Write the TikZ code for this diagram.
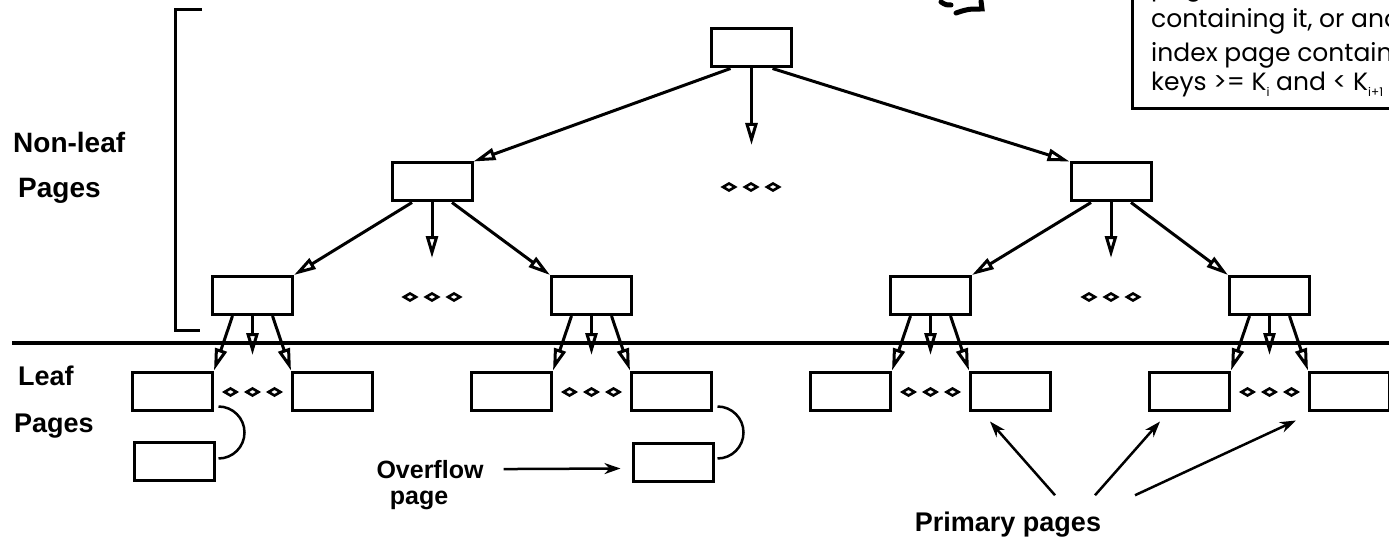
\documentclass[tikz,border=0pt]{standalone}
\usepackage{fontspec}
\setmainfont{Liberation Sans}
\newfontfamily\handfont{Poppins}
\usetikzlibrary{arrows.meta}
\newcommand{\lowsub}[1]{\raisebox{-6pt}{\fontsize{12}{12}\selectfont #1}}

\begin{document}
\begin{tikzpicture}[x=1pt, y=-1pt,
        page/.style={draw, line width=3pt, minimum width=80pt, minimum height=38pt, inner sep=0pt},
        down/.style={line width=3pt, -{Triangle[open, length=22pt, width=12pt]}},
        pointer/.style={line width=2.5pt, -{Stealth[length=16pt, width=11pt, inset=5pt]}},
        dotmark/.style={line width=2.6pt},
        side/.style={anchor=base west, inner sep=0pt, font=\bfseries\fontsize{28}{28}\selectfont},
        caption/.style={anchor=base, inner sep=0pt, font=\bfseries\fontsize{25}{25}\selectfont},
        note/.style={anchor=base west, inner sep=0pt, font=\handfont\fontsize{25}{25}\selectfont}]
    \useasboundingbox (0,0) rectangle (1389,540);
    \clip (0,0) rectangle (1389,540);
    % non-leaf levels
    \node[page] (root) at (751.5,48) {};
    \node[page] (midl) at (432,182) {};
    \node[page] (midr) at (1111,182) {};
    \foreach \g/\c in {a/252.5,b/591.5,c/930.5,d/1269.5}
        \node[page] (low\g) at (\c,295.5) {};
    \coordinate (rootend) at (751.5,145);
    \coordinate (midlend) at (432,258);
    \coordinate (midrend) at (1111,258);
    \draw[down] ([xshift=-21pt]root.south) -- (midl.north east);
    \draw[down] (root.south) -- (rootend);
    \draw[down] ([xshift=21pt]root.south) -- (midr.north west);
    \draw[down] ([xshift=-20pt]midl.south) -- (lowa.north east);
    \draw[down] (midl.south) -- (midlend);
    \draw[down] ([xshift=20pt]midl.south) -- (lowb.north west);
    \draw[down] ([xshift=-20pt]midr.south) -- (lowc.north east);
    \draw[down] (midr.south) -- (midrend);
    \draw[down] ([xshift=20pt]midr.south) -- (lowd.north west);
    \foreach \x/\y in {729/187,751/187,773/187,410/297,432/297,454/297,1089/297,1111/297,1133/297}
        \draw[dotmark] (\x-6,\y) -- (\x,\y-3.5) -- (\x+6,\y) -- (\x,\y+3.5) -- cycle;
    \draw[line width=3pt] (202,10) -- (175,10) -- (175,330) -- (200,330);
    \node[side] (nonleaf) at (13,153) {Non-leaf};
    \node[side] (nonleafpg) at (18,197) {Pages};
    % leaf level
    \draw[line width=3.5pt] (12,343) -- (1389,343);
    \node[side, font=\bfseries\fontsize{27}{27}\selectfont] (leaflbl) at (18,385) {Leaf};
    \node[side, font=\bfseries\fontsize{27}{27}\selectfont] (leafpg) at (14,432) {Pages};
    \foreach \g/\c in {a/252.5,b/591.5,c/930.5,d/1269.5} {
        \node[page] (leaf\g1) at (\c-80,391) {};
        \node[page] (leaf\g2) at (\c+80,391) {};
        \coordinate (lowend\g) at (\c,355);
        \draw[down] ([xshift=-20pt]low\g.south) -- (leaf\g1.north east);
        \draw[down] (low\g.south) -- (lowend\g);
        \draw[down] ([xshift=20pt]low\g.south) -- (leaf\g2.north west);
        \foreach \dx in {-22,0,22}
            \draw[dotmark] (\c+\dx-6,392) -- (\c+\dx,388.5) -- (\c+\dx+6,392) -- (\c+\dx,395.5) -- cycle;
    }
    % overflow pages
    \node[page] (overa) at (174.5,461) {};
    \node[page] (overb) at (673,462.5) {};
    \draw[line width=2.5pt] ([xshift=4.5pt,yshift=5pt]leafa1.south east) arc[start angle=-90, end angle=90, radius=26];
    \draw[line width=2.5pt] ([xshift=4.5pt,yshift=5pt]leafb2.south east) arc[start angle=-90, end angle=90, radius=26];
    \node[caption] (ovlbl) at (430,478) {Overflow};
    \node[caption] (ovpg) at (419,504) {page};
    \draw[pointer] ([xshift=20pt]ovlbl.east) -- ([xshift=-11pt,yshift=-6pt]overb.west);
    \node[caption, font=\bfseries\fontsize{27}{27}\selectfont] (prim) at (1008,531) {Primary pages};
    \draw[pointer] ([xshift=47pt,yshift=16pt]prim.north) -- ([xshift=-20.5pt,yshift=-10pt]leafc2.south);
    \draw[pointer] ([xshift=87pt,yshift=16pt]prim.north) -- ([xshift=-29.5pt,yshift=-10pt]leafd1.south);
    \draw[pointer] ([xshift=127pt,yshift=16pt]prim.north) -- ([xshift=-53.5pt,yshift=-9pt]leafd2.south);
    % note in the corner
    \draw[line width=3pt] (1132,-5) |- (1395,109);
    \node[note] (note0) at (1151,-4) {page};
    \node[note] (note1) at (1151,28) {containing it, or another};
    \node[note] (note2) at (1151,62) {index page containing};
    \node[note] (note3) at (1151,91) {keys >= K\lowsub{i} and < K\lowsub{i+1}};
    \draw[line width=5pt, line cap=round] (941,2) .. controls (946,5) .. (951,5);
    \draw[line width=5pt, line cap=round] (956,13) .. controls (968,9) .. (982,9) -- (981,1);
\end{tikzpicture}
\end{document}
